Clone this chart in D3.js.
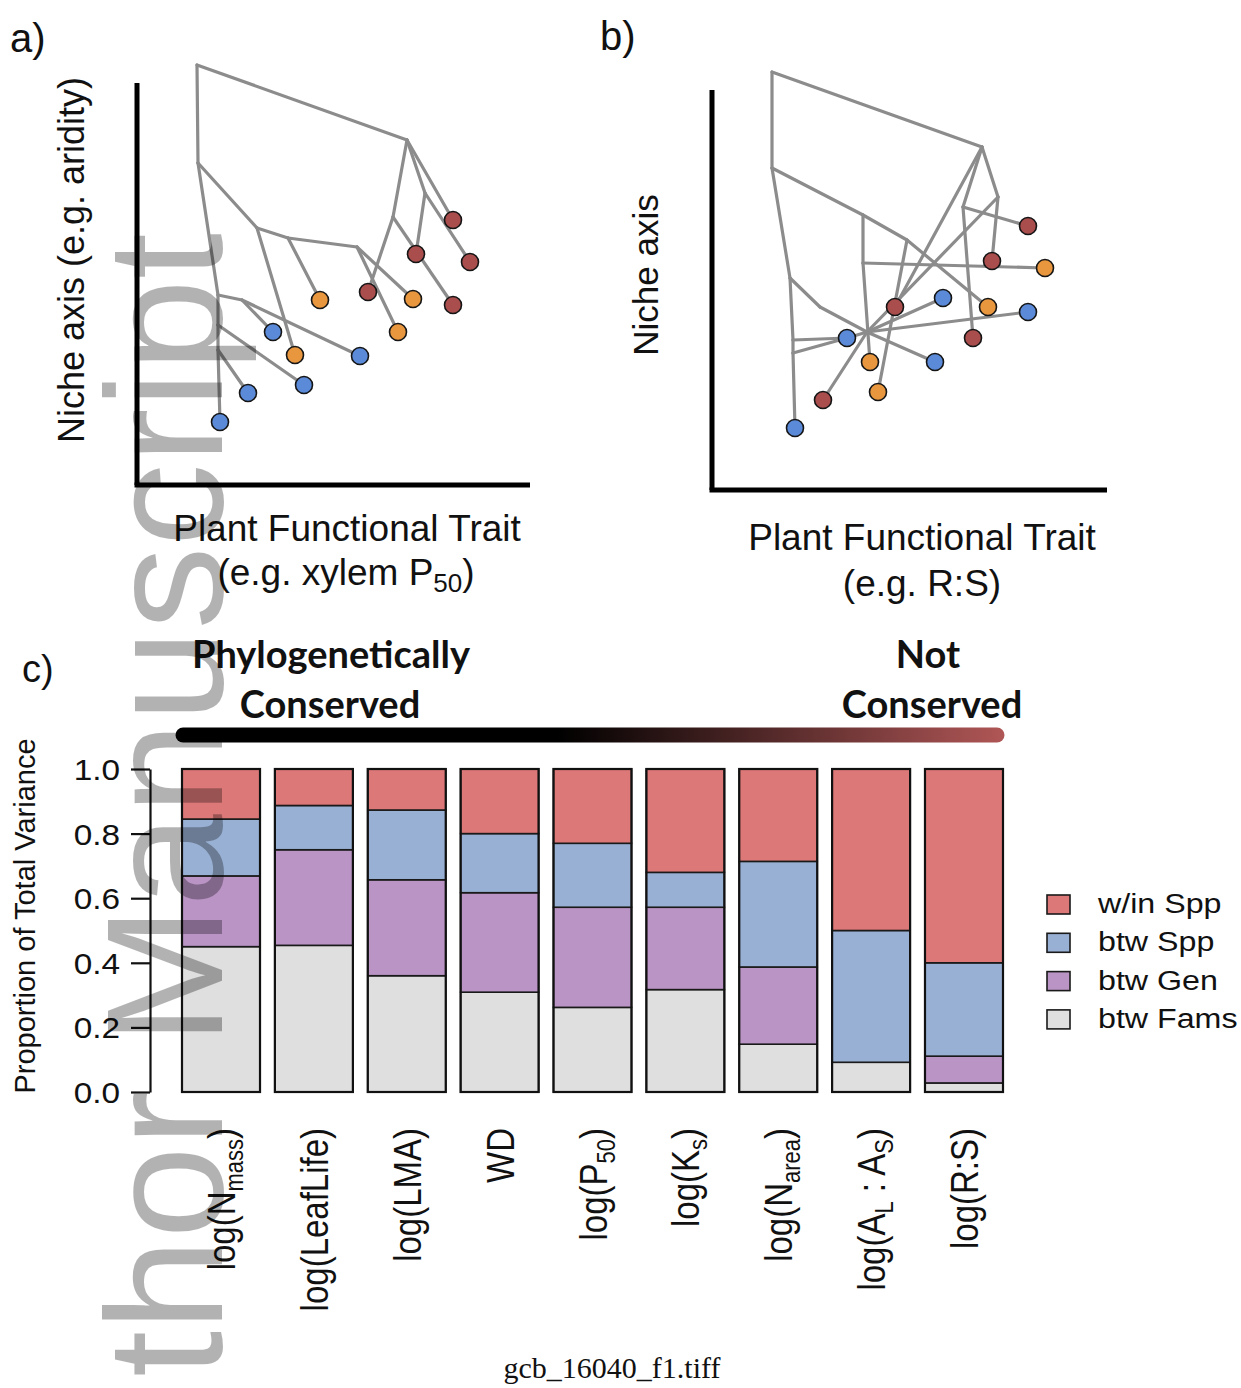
<!DOCTYPE html>
<html>
<head>
<meta charset="utf-8">
<script src="https://cdn.jsdelivr.net/npm/d3@7"></script>
<style>
body { margin: 0; background: #fff; }
text { font-family: "Liberation Sans", Arial, sans-serif; fill: #111; }
text.hdr { font-family: Lato, "Open Sans", sans-serif; font-weight: bold; }
text.foot { font-family: "Liberation Serif", serif; }
</style>
</head>
<body>
<script>
// ---- panel c data : proportion of total variance per trait ----
const traits = ["log(N{mass})", "log(LeafLife)", "log(LMA)", "WD", "log(P{50})", "log(K{s})", "log(N{area})", "log(A{L} : A{S})", "log(R:S)"];
const btwFams = [0.450, 0.454, 0.360, 0.309, 0.262, 0.317, 0.148, 0.092, 0.028];
const btwGen  = [0.219, 0.296, 0.297, 0.308, 0.310, 0.255, 0.239, 0.000, 0.083];
const btwSpp  = [0.176, 0.137, 0.216, 0.183, 0.198, 0.108, 0.327, 0.408, 0.289];
const winSpp  = [0.155, 0.113, 0.127, 0.200, 0.230, 0.320, 0.286, 0.500, 0.600];
const yTicks = [0, 0.2, 0.4, 0.6, 0.8, 1.0];

const seriesKeys = ["fams", "gen", "spp", "win"];
const seriesNames = {win: "w/in Spp", spp: "btw Spp", gen: "btw Gen", fams: "btw Fams"};
const seriesColors = {win: "#dd7878", spp: "#98b0d3", gen: "#b994c4", fams: "#dfdfdf"};

// ---- panel a / b : schematic trees (trait units, niche units) ----
// [id, trait, niche, leaf colour or null]
const nodesA = [
  ["R", 60, 420, null], ["A", 270, 345, null], ["B", 61, 322, null], ["L1", 81, 190, null],
  ["L1a", 105, 185, null], ["L2", 81, 160, null], ["L3", 81, 135, null], ["C", 120, 257, null],
  ["C1", 151, 247, null], ["C2", 220, 238, null], ["A1", 256, 268, null], ["A2", 288, 292, null],
  ["b1", 83, 63, "blue"], ["b2", 111, 92, "blue"], ["b3", 167, 100, "blue"], ["b4", 136, 153, "blue"], ["b5", 223, 129, "blue"],
  ["o1", 158, 130, "orange"], ["o2", 183, 185, "orange"], ["o3", 276, 186, "orange"], ["o4", 261, 153, "orange"],
  ["r1", 231, 193, "red"], ["r2", 316, 180, "red"], ["r3", 279, 231, "red"], ["r4", 316, 265, "red"], ["r5", 333, 223, "red"]
];
const edgesA = [
  ["R", "A"], ["R", "B"], ["B", "L1"], ["L1", "L2"], ["L2", "L3"], ["L3", "b1"], ["L1", "L1a"], ["L1a", "b4"],
  ["L1a", "b5"], ["L2", "b3"], ["L3", "b2"], ["B", "C"], ["C", "o1"], ["C", "C1"], ["C1", "o2"], ["C1", "C2"],
  ["C2", "o3"], ["C2", "o4"], ["A", "A1"], ["A1", "r1"], ["A1", "r2"], ["A", "A2"], ["A2", "r3"], ["A2", "r5"], ["A", "r4"]
];
const nodesB = [
  ["R", 60, 418, null], ["A", 270, 343, null], ["B", 60, 322, null], ["L1", 78, 212, null],
  ["L1b", 108, 183, null], ["T1", 81, 150, null], ["T2", 81, 137, null], ["H", 155, 158, null],
  ["N1", 151, 275, null], ["N1b", 151, 227, null], ["N2", 195, 250, null], ["A1", 251, 283, null], ["A2", 286, 293, null],
  ["b1", 83, 62, "blue"], ["b2", 135, 152, "blue"], ["b3", 223, 128, "blue"], ["b4", 231, 192, "blue"], ["b5", 316, 178, "blue"],
  ["o1", 158, 128, "orange"], ["o2", 166, 98, "orange"], ["o3", 276, 183, "orange"], ["o4", 333, 222, "orange"],
  ["r1", 111, 90, "red"], ["r2", 183, 183, "red"], ["r3", 261, 152, "red"], ["r4", 280, 229, "red"], ["r5", 316, 264, "red"]
];
const edgesB = [
  ["R", "A"], ["R", "B"], ["B", "L1"], ["L1", "T1"], ["T1", "T2"], ["T2", "b1"], ["L1", "L1b"], ["L1b", "H"],
  ["H", "b3"], ["T1", "b2"], ["T2", "b2"], ["b2", "H"], ["H", "b5"], ["H", "b4"], ["B", "N1"], ["N1", "N2"],
  ["N2", "o3"], ["N1", "N1b"], ["N1b", "o1"], ["N1b", "o4"], ["N2", "o2"], ["A", "r2"], ["A", "A1"], ["A1", "r3"],
  ["A1", "r5"], ["A", "A2"], ["A2", "r4"], ["A2", "H"], ["H", "r1"]
];
const leafColors = {red: "#a94d4d", orange: "#e8973f", blue: "#5b8ad8"};

makeFigure();

function makeFigure() {
    d3.select("body").selectAll("*").remove();
    var svg = d3.select("body").append("svg").attr("width", 1241).attr("height", 1388);

    //panel a
    var xA = d3.scaleLinear().domain([0, 393]).range([137, 530]);
    var yA = d3.scaleLinear().domain([0, 402]).range([485, 83]);
    makeTreePanel(svg, nodesA, edgesA, xA, yA);
    svg.append("text").attr("x", 10).attr("y", 52).attr("font-size", 40).text("a)");
    svg.append("text").attr("transform", "translate(84,260) rotate(-90)").attr("text-anchor", "middle")
        .attr("font-size", 36).text("Niche axis (e.g. aridity)");
    svg.append("text").attr("x", 347).attr("y", 541).attr("text-anchor", "middle").attr("font-size", 37).text("Plant Functional Trait");
    var t = svg.append("text").attr("x", 346).attr("y", 585).attr("text-anchor", "middle").attr("font-size", 37);
    t.append("tspan").text("(e.g. xylem P");
    t.append("tspan").attr("font-size", 26).attr("dy", 7).text("50");
    t.append("tspan").attr("dy", -7).text(")");

    //panel b
    var xB = d3.scaleLinear().domain([0, 395]).range([712, 1107]);
    var yB = d3.scaleLinear().domain([0, 400]).range([490, 90]);
    makeTreePanel(svg, nodesB, edgesB, xB, yB);
    svg.append("text").attr("x", 600).attr("y", 50).attr("font-size", 40).text("b)");
    svg.append("text").attr("transform", "translate(658,275) rotate(-90)").attr("text-anchor", "middle")
        .attr("font-size", 35).text("Niche axis");
    svg.append("text").attr("x", 922).attr("y", 550).attr("text-anchor", "middle").attr("font-size", 37).text("Plant Functional Trait");
    svg.append("text").attr("x", 922).attr("y", 596).attr("text-anchor", "middle").attr("font-size", 37).text("(e.g. R:S)");

    //panel c
    makeBarPanel(svg);

    // watermark + file name
    svg.append("text").attr("transform", "translate(222,233) rotate(-90)").attr("text-anchor", "end")
        .attr("font-size", 166).style("fill", "#000").attr("fill-opacity", 0.3).text("Author Manuscript");
    svg.append("text").attr("class", "foot").attr("x", 612).attr("y", 1378).attr("text-anchor", "middle")
        .attr("font-size", 30).text("gcb_16040_f1.tiff");
}

function makeTreePanel(svg, nodes, edges, x, y) {
    var byId = {};
    nodes.forEach(function (n) { byId[n[0]] = n; });
    var g = svg.append("g");

    // axes as thick black L
    g.append("line").attr("x1", x(0)).attr("x2", x(0)).attr("y1", y.range()[1]).attr("y2", y(0))
        .attr("stroke", "#000").attr("stroke-width", 5);
    g.append("line").attr("x1", x(0) - 2.5).attr("x2", x.range()[1]).attr("y1", y(0)).attr("y2", y(0))
        .attr("stroke", "#000").attr("stroke-width", 5);

    g.selectAll(".edge").data(edges).enter().append("line").attr("class", "edge")
        .attr("x1", function (e) { return x(byId[e[0]][1]); })
        .attr("y1", function (e) { return y(byId[e[0]][2]); })
        .attr("x2", function (e) { return x(byId[e[1]][1]); })
        .attr("y2", function (e) { return y(byId[e[1]][2]); })
        .attr("stroke", "#8c8c8c").attr("stroke-width", 3.2).attr("stroke-linecap", "round");

    g.selectAll(".leaf").data(nodes.filter(function (n) { return n[3]; })).enter().append("circle").attr("class", "leaf")
        .attr("cx", function (n) { return x(n[1]); })
        .attr("cy", function (n) { return y(n[2]); })
        .attr("r", 8.5)
        .attr("fill", function (n) { return leafColors[n[3]]; })
        .attr("stroke", "#151515").attr("stroke-width", 1.6);
}

function addLabel(sel, label, subSize, shift) {
    //splits "log(N{mass})" into normal + subscript pieces
    var parts = label.split(/(\{[^}]*\})/).filter(function (p) { return p.length; });
    var down = false;
    parts.forEach(function (p) {
        if (p[0] === "{") {
            sel.append("tspan").attr("font-size", subSize).attr("dy", shift).text(p.slice(1, -1));
            down = true;
        } else {
            sel.append("tspan").attr("dy", down ? -shift : 0).text(p);
            down = false;
        }
    });
}

function makeBarPanel(svg) {
    var rows = traits.map(function (tr, i) {
        return {trait: tr, fams: btwFams[i], gen: btwGen[i], spp: btwSpp[i], win: winSpp[i]};
    });
    var x = d3.scaleBand().domain(traits).range([182, 1003]).paddingInner(0.16).paddingOuter(0);
    var y = d3.scaleLinear().domain([0, 1]).range([1092, 769]);
    var stacked = d3.stack().keys(seriesKeys)(rows);

    svg.append("text").attr("x", 22).attr("y", 682).attr("font-size", 38).text("c)");

    // conserved / not conserved header
    var hdr = svg.append("g").attr("font-size", 38);
    hdr.append("text").attr("class", "hdr").attr("x", 331).attr("y", 668).attr("text-anchor", "middle").text("Phylogenetically");
    hdr.append("text").attr("class", "hdr").attr("x", 330).attr("y", 718).attr("text-anchor", "middle").text("Conserved");
    hdr.append("text").attr("class", "hdr").attr("x", 928).attr("y", 668).attr("text-anchor", "middle").text("Not");
    hdr.append("text").attr("class", "hdr").attr("x", 932).attr("y", 718).attr("text-anchor", "middle").text("Conserved");

    var grad = svg.append("defs").append("linearGradient").attr("id", "consGrad")
        .attr("gradientUnits", "userSpaceOnUse").attr("x1", 176).attr("x2", 1004).attr("y1", 0).attr("y2", 0);
    grad.append("stop").attr("offset", "0").attr("stop-color", "#000");
    grad.append("stop").attr("offset", "0.46").attr("stop-color", "#000");
    grad.append("stop").attr("offset", "1").attr("stop-color", "#b05656");
    svg.append("line").attr("x1", 183).attr("x2", 997).attr("y1", 735).attr("y2", 735)
        .attr("stroke", "url(#consGrad)").attr("stroke-width", 15).attr("stroke-linecap", "round");

    // stacked bars
    var layers = svg.append("g").selectAll("g").data(stacked).enter().append("g")
        .attr("fill", function (s) { return seriesColors[s.key]; });
    layers.selectAll("rect").data(function (s) { return s; }).enter().append("rect")
        .attr("x", function (d) { return x(d.data.trait); })
        .attr("y", function (d) { return y(d[1]); })
        .attr("width", x.bandwidth())
        .attr("height", function (d) { return y(d[0]) - y(d[1]); })
        .attr("stroke", "#1a1a1a").attr("stroke-width", 1.6);
    svg.append("g").selectAll("rect").data(rows).enter().append("rect")
        .attr("x", function (d) { return x(d.trait); })
        .attr("y", y(1)).attr("width", x.bandwidth()).attr("height", y(0) - y(1))
        .attr("fill", "none").attr("stroke", "#111").attr("stroke-width", 2.2);

    // y axis
    var ax = svg.append("g").attr("transform", "translate(150,0)")
        .call(d3.axisLeft(y).tickValues(yTicks).tickFormat(d3.format(".1f")).tickSize(19).tickSizeOuter(0));
    ax.select(".domain").attr("stroke", "#111").attr("stroke-width", 2.2);
    ax.selectAll(".tick line").attr("stroke", "#111").attr("stroke-width", 2.2);
    ax.selectAll(".tick text").attr("font-size", 29).attr("font-family", "'Liberation Sans', Arial, sans-serif")
        .attr("fill", "#111").attr("x", -26).attr("dy", "0.36em").attr("transform", "scale(1.15,1)");
    svg.append("text").attr("transform", "translate(35,916) rotate(-90)").attr("text-anchor", "middle")
        .attr("font-size", 29).text("Proportion of Total Variance");

    // rotated trait labels
    traits.forEach(function (tr) {
        var cx = x(tr) + x.bandwidth() / 2 + 14;
        var lab = svg.append("text").attr("transform", "translate(" + cx + ",1128) scale(1.15,1) rotate(-90)")
            .attr("text-anchor", "end").attr("font-size", 33);
        addLabel(lab, tr, 22, 7);
    });

    // legend
    var legendKeys = ["win", "spp", "gen", "fams"];
    var lg = svg.append("g").selectAll("g").data(legendKeys).enter().append("g")
        .attr("transform", function (k, i) { return "translate(1047," + (895 + i * 38.3) + ")"; });
    lg.append("rect").attr("width", 23).attr("height", 19)
        .attr("fill", function (k) { return seriesColors[k]; }).attr("stroke", "#1a1a1a").attr("stroke-width", 1.6);
    lg.append("text").attr("transform", "translate(51,18) scale(1.15,1)").attr("font-size", 28)
        .text(function (k) { return seriesNames[k]; });
}
</script>
</body>
</html>
